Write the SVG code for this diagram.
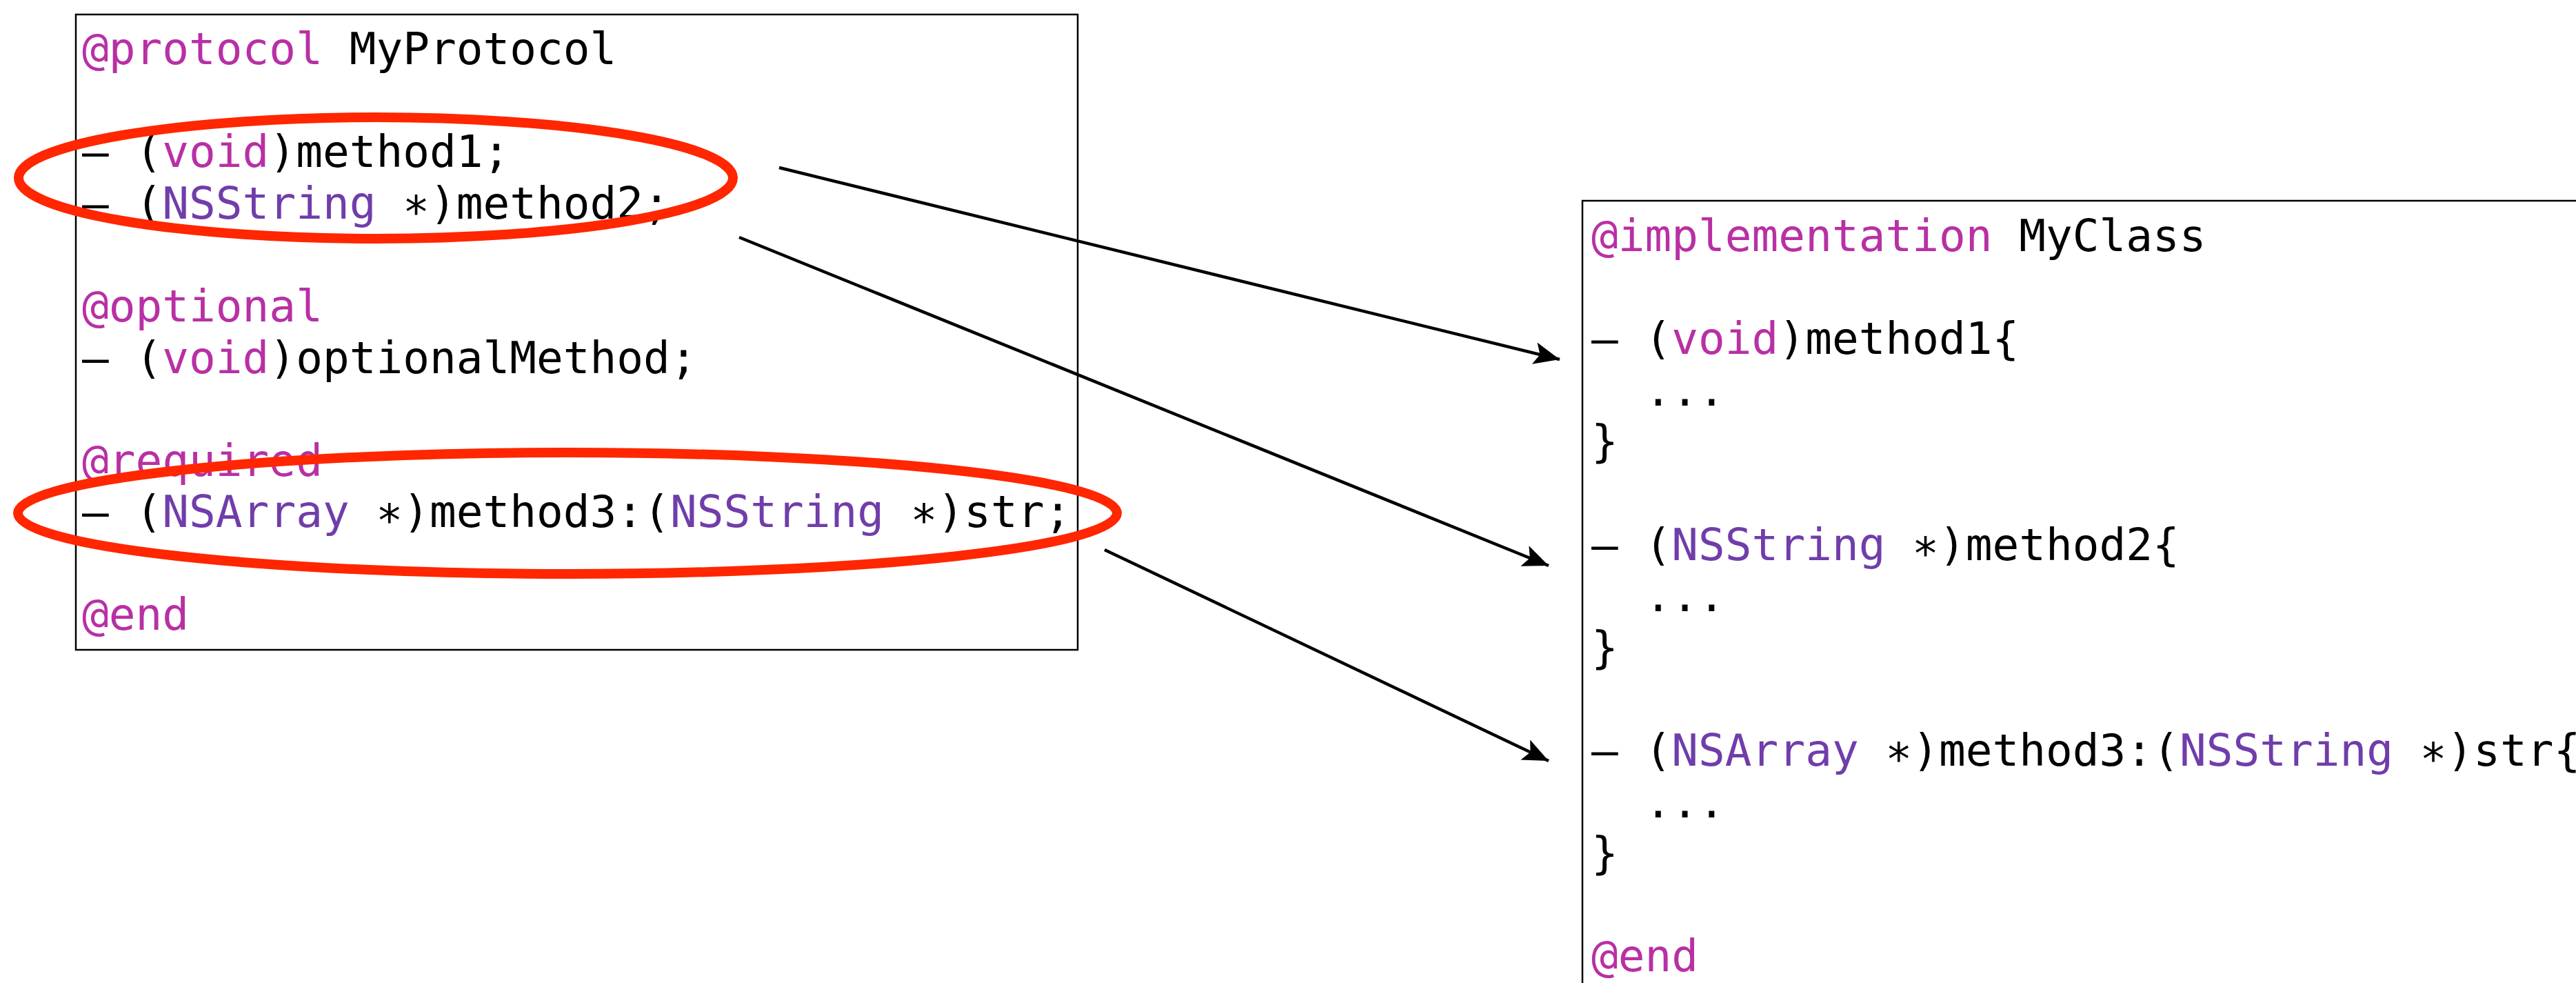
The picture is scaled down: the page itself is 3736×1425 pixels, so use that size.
<svg xmlns="http://www.w3.org/2000/svg" width="3736" height="1425" viewBox="0 0 3736 1425">
<style>
text{font-family:"DejaVu Sans Mono","Liberation Mono",monospace;font-size:64.4px;fill:#000;white-space:pre}
.k{fill:#B830A4}
.t{fill:#703DAA}
.box{fill:#fff;stroke:#000;stroke-width:2.5}
.ring{fill:none;stroke:#FF2600;stroke-width:14}
.conn{stroke:#000;stroke-width:4.5;fill:none}
</style>
<defs>
<marker id="ah" markerUnits="userSpaceOnUse" markerWidth="40" markerHeight="40" viewBox="0 0 30 24" refX="28" refY="12" orient="auto">
<path d="M0,0 L28,12 L0,24 L6,12 z" fill="#000"/>
</marker>
</defs>
<rect width="3736" height="1425" fill="#fff"/>
<g id="protocol">
<rect class="box" x="110" y="21" width="1453" height="921"/>
<text x="119" y="93"><tspan class="k">@protocol</tspan> MyProtocol</text>
<text x="119" y="242">– (<tspan class="k">void</tspan>)method1;</text>
<text x="119" y="317">– (<tspan class="t">NSString</tspan> ∗)method2;</text>
<text x="119" y="466"><tspan class="k">@optional</tspan></text>
<text x="119" y="541">– (<tspan class="k">void</tspan>)optionalMethod;</text>
<text x="119" y="690"><tspan class="k">@required</tspan></text>
<text x="119" y="764">– (<tspan class="t">NSArray</tspan> ∗)method3:(<tspan class="t">NSString</tspan> ∗)str;</text>
<text x="119" y="913"><tspan class="k">@end</tspan></text>
</g>
<g id="implementation">
<rect class="box" x="2295" y="291" width="1500" height="1200"/>
<text x="2308" y="364"><tspan class="k">@implementation</tspan> MyClass</text>
<text x="2308" y="513">– (<tspan class="k">void</tspan>)method1{</text>
<text x="2308" y="588">  ...</text>
<text x="2308" y="662">}</text>
<text x="2308" y="812">– (<tspan class="t">NSString</tspan> ∗)method2{</text>
<text x="2308" y="886">  ...</text>
<text x="2308" y="961">}</text>
<text x="2308" y="1110">– (<tspan class="t">NSArray</tspan> ∗)method3:(<tspan class="t">NSString</tspan> ∗)str{</text>
<text x="2308" y="1185">  ...</text>
<text x="2308" y="1259">}</text>
<text x="2308" y="1408"><tspan class="k">@end</tspan></text>
</g>
<g id="highlight-1"><ellipse class="ring" cx="545" cy="258" rx="518" ry="88"/></g>
<g id="highlight-2"><ellipse class="ring" cx="823" cy="744" rx="797" ry="88"/></g>
<g id="connectors">
<line class="conn" x1="1130" y1="243" x2="2262" y2="521" marker-end="url(#ah)"/>
<line class="conn" x1="1072" y1="344" x2="2246" y2="820" marker-end="url(#ah)"/>
<line class="conn" x1="1602" y1="797" x2="2246" y2="1103" marker-end="url(#ah)"/>
</g>
</svg>
